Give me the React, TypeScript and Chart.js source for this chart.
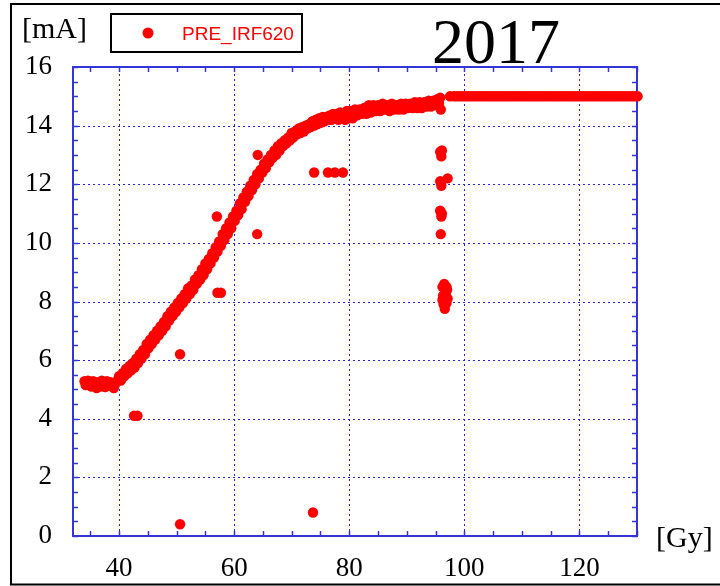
import { useEffect, useRef } from "react";
import { Chart, registerables } from "chart.js";

Chart.register(...registerables);

const seriesLabel = "PRE_IRF620";
const titleText = "2017";
const yUnit = "[mA]";
const xUnit = "[Gy]";

const xMin = 32;
const xMax = 130;
const xStep = 20;
const xMinorStep = 5;
const yMin = 0;
const yMax = 16;
const yStep = 2;
const yMinorStep = 0.5;

// main rising curve (dose in Gy, current in mA)
const curveGy = [
  34.0, 34.2, 34.3, 34.6, 34.9, 35.2, 35.5, 35.8, 36.1, 36.4,
  36.7, 37.0, 37.3, 37.6, 37.9, 38.2, 38.5, 38.8, 39.1, 39.4,
  39.7,
  40.0, 40.3, 40.6, 40.9, 41.2, 41.5, 41.8, 42.1, 42.4, 42.7,
  43.0, 43.3, 43.6, 43.9, 44.2, 44.5, 44.8, 45.1, 45.4, 45.7,
  46.0, 46.3, 46.6, 46.9, 47.2, 47.5, 47.8, 48.1, 48.4, 48.7,
  49.0, 49.3, 49.6, 49.9, 50.2, 50.5, 50.8, 51.1, 51.4, 51.7,
  52.0, 52.3, 52.6, 52.9, 53.2, 53.5, 53.8, 54.1, 54.4, 54.7,
  55.0, 55.3, 55.6, 55.9, 56.2, 56.5, 56.8, 57.1, 57.4, 57.7,
  58.0, 58.3, 58.6, 58.9, 59.2, 59.5, 59.8, 60.1, 60.4, 60.7,
  61.0, 61.3, 61.6, 61.9, 62.2, 62.5, 62.8, 63.1, 63.4, 63.7,
  64.0, 64.3, 64.6, 64.9, 65.2, 65.5, 65.8, 66.1, 66.4, 66.7,
  67.0, 67.3, 67.6, 67.9, 68.2, 68.5, 68.8, 69.1, 69.4, 69.7,
  70.0, 70.3, 70.6, 70.9, 71.2, 71.5, 71.8, 72.1, 72.4, 72.7,
  73.0, 73.3, 73.6, 73.9, 74.2, 74.5, 74.8, 75.1, 75.4, 75.7,
  76.0, 76.3, 76.6, 76.9, 77.2, 77.5, 77.8, 78.1, 78.4, 78.7,
  79.0, 79.3, 79.6, 79.9, 80.2, 80.6, 81.0, 81.4, 81.8, 82.2,
  82.6, 83.0, 83.4, 83.8, 84.2, 84.6, 85.0, 85.4, 85.8, 86.2,
  86.6, 87.0, 87.4, 87.8, 88.2, 88.6, 89.0, 89.4, 89.8, 90.2,
  90.6, 91.0, 91.4, 91.8, 92.2, 92.6, 93.0, 93.4, 93.8, 94.2,
  94.6, 95.0, 95.3, 95.6, 95.8, 95.9,
];
const curveMA = [
  5.28, 5.15, 5.25, 5.30, 5.20, 5.10, 5.28, 5.20, 5.05, 5.25,
  5.10, 5.30, 5.20, 5.08, 5.28, 5.20, 5.25, 5.10, 5.05, 5.20,
  5.30,
  5.45, 5.30, 5.55, 5.45, 5.70, 5.55, 5.80, 5.65, 5.90, 5.75,
  6.05, 5.90, 6.20, 6.05, 6.35, 6.20, 6.55, 6.40, 6.70, 6.55,
  6.85, 6.70, 7.00, 6.85, 7.15, 7.00, 7.30, 7.15, 7.50, 7.35,
  7.65, 7.50, 7.80, 7.65, 7.95, 7.80, 8.10, 7.95, 8.25, 8.10,
  8.45, 8.25, 8.55, 8.40, 8.75, 8.60, 8.90, 8.75, 9.10, 8.90,
  9.30, 9.10, 9.45, 9.30, 9.65, 9.50, 9.85, 9.70, 10.05, 9.90,
  10.30, 10.10, 10.50, 10.30, 10.70, 10.50, 10.90, 10.75, 11.10, 10.95,
  11.35, 11.15, 11.55, 11.40, 11.75, 11.60, 11.95, 11.80, 12.15, 12.00,
  12.35, 12.20, 12.50, 12.40, 12.70, 12.55, 12.85, 12.75, 13.00, 12.90,
  13.15, 13.00, 13.30, 13.15, 13.40, 13.30, 13.50, 13.40, 13.60, 13.50,
  13.75, 13.60, 13.80, 13.70, 13.90, 13.75, 13.95, 13.80, 14.00, 13.90,
  14.05, 13.95, 14.15, 14.00, 14.20, 14.05, 14.25, 14.10, 14.30, 14.15,
  14.30, 14.20, 14.35, 14.20, 14.40, 14.25, 14.40, 14.20, 14.45, 14.25,
  14.40, 14.20, 14.50, 14.25, 14.50, 14.25, 14.55, 14.35, 14.55, 14.40,
  14.60, 14.40, 14.70, 14.45, 14.70, 14.50, 14.70, 14.50, 14.75, 14.55,
  14.70, 14.50, 14.75, 14.55, 14.70, 14.55, 14.75, 14.55, 14.75, 14.60,
  14.75, 14.60, 14.80, 14.60, 14.80, 14.60, 14.80, 14.65, 14.85, 14.65,
  14.85, 14.70, 14.90, 14.75, 14.95, 14.55,
];

// saturated plateau after ~97.5 Gy
const plateauGy = [
  97.5, 98.2, 98.7, 99.2, 99.7, 100.2, 100.7, 101.2, 101.7, 102.2,
  102.7, 103.2, 103.7, 104.2, 104.7, 105.2, 105.7, 106.2, 106.7, 107.2,
  107.7, 108.2, 108.7, 109.2, 109.7, 110.2, 110.7, 111.2, 111.7, 112.2,
  112.7, 113.2, 113.7, 114.2, 114.7, 115.2, 115.7, 116.2, 116.7, 117.2,
  117.7, 118.2, 118.7, 119.2, 119.7, 120.2, 120.7, 121.2, 121.7, 122.2,
  122.7, 123.2, 123.7, 124.2, 124.7, 125.2, 125.7, 126.2, 126.7, 127.2,
  127.7, 128.2, 128.7, 129.2, 129.7, 130.1,
];
const plateauMA = [
  15, 15, 15, 15, 15, 15, 15, 15, 15, 15,
  15, 15, 15, 15, 15, 15, 15, 15, 15, 15,
  15, 15, 15, 15, 15, 15, 15, 15, 15, 15,
  15, 15, 15, 15, 15, 15, 15, 15, 15, 15,
  15, 15, 15, 15, 15, 15, 15, 15, 15, 15,
  15, 15, 15, 15, 15, 15, 15, 15, 15, 15,
  15, 15, 15, 15, 15, 15,
];

// isolated readings
const outlierGy = [
  42.6, 43.2, 50.6, 50.6, 57.0, 57.1, 57.7, 64.1, 64.0, 73.7,
  73.9, 76.3, 77.5, 78.9, 95.8, 96.1, 96.0, 95.8, 96.0, 97.1,
  95.8, 96.1, 96.0, 95.9, 95.9, 96.2, 96.5, 96.9, 96.3, 96.8,
  97.1, 96.4, 96.9, 96.6, 97.0, 96.2,
];
const outlierMA = [
  4.10, 4.10, 0.40, 6.20, 10.90, 8.30, 8.30, 13.00, 10.30, 0.80,
  12.40, 12.40, 12.40, 12.40, 13.10, 13.15, 12.95, 12.10, 11.95, 12.20,
  11.10, 11.00, 10.90, 11.05, 10.30, 8.50, 8.60, 8.50, 8.20, 8.30,
  8.10, 7.90, 7.95, 7.75, 8.40, 8.05,
];

const RED = "#ff0000";
const AXIS_BLUE = "#3434d8";
const GRID_BLUE = "#2424f0";
const SERIF = "'Liberation Serif', 'Times New Roman', serif";
const SANS = "'Liberation Sans', Arial, sans-serif";

function zip(xs: number[], ys: number[]) {
  return xs.map((x, i) => ({ x, y: ys[i] }));
}

const decorPlugin = {
  id: "decor",
  beforeDraw(chart: any) {
    const ctx = chart.ctx;
    ctx.save();
    ctx.fillStyle = "#ffffff";
    ctx.fillRect(0, 0, chart.width, chart.height);
    ctx.strokeStyle = "#000000";
    ctx.lineWidth = 2;
    ctx.beginPath();
    ctx.moveTo(chart.width + 2, 4);
    ctx.lineTo(11, 4);
    ctx.lineTo(11, 584.5);
    ctx.lineTo(chart.width + 2, 584.5);
    ctx.stroke();
    ctx.restore();
  },
  beforeDatasetsDraw(chart: any) {
    const ctx = chart.ctx;
    const a = chart.chartArea;
    const xs = chart.scales.x;
    const ys = chart.scales.y;
    ctx.save();
    // dotted grid at major ticks
    ctx.strokeStyle = GRID_BLUE;
    ctx.lineWidth = 1;
    ctx.setLineDash([2, 3]);
    xs.ticks.forEach((t: any) => {
      const px = Math.round(xs.getPixelForValue(t.value)) + 0.5;
      ctx.beginPath();
      ctx.moveTo(px, a.bottom);
      ctx.lineTo(px, a.top);
      ctx.stroke();
    });
    ys.ticks.forEach((t: any) => {
      if (t.value <= yMin || t.value >= yMax) return;
      const py = Math.round(ys.getPixelForValue(t.value)) + 0.5;
      ctx.beginPath();
      ctx.moveTo(a.left, py);
      ctx.lineTo(a.right, py);
      ctx.stroke();
    });
    ctx.setLineDash([]);
    // inward ticks on all four sides
    ctx.strokeStyle = AXIS_BLUE;
    ctx.lineWidth = 1.5;
    const tl = 5;
    for (let v = Math.ceil(xMin / xMinorStep) * xMinorStep; v <= xMax; v += xMinorStep) {
      const px = Math.round(xs.getPixelForValue(v)) + 0.5;
      ctx.beginPath();
      ctx.moveTo(px, a.bottom);
      ctx.lineTo(px, a.bottom - tl);
      ctx.moveTo(px, a.top);
      ctx.lineTo(px, a.top + tl);
      ctx.stroke();
    }
    for (let v = yMin; v <= yMax + 1e-9; v += yMinorStep) {
      const py = Math.round(ys.getPixelForValue(v)) + 0.5;
      ctx.beginPath();
      ctx.moveTo(a.left, py);
      ctx.lineTo(a.left + tl, py);
      ctx.moveTo(a.right, py);
      ctx.lineTo(a.right - tl, py);
      ctx.stroke();
    }
    // plot frame
    ctx.lineWidth = 2;
    ctx.strokeRect(a.left, a.top, a.right - a.left, a.bottom - a.top);
    ctx.restore();
  },
  afterDraw(chart: any) {
    const ctx = chart.ctx;
    ctx.save();
    // legend box
    ctx.strokeStyle = "#000000";
    ctx.lineWidth = 2;
    ctx.strokeRect(111, 14, 191, 38);
    const ds = chart.data.datasets[0];
    ctx.fillStyle = ds.backgroundColor;
    ctx.beginPath();
    ctx.arc(148, 33, 5.5, 0, Math.PI * 2);
    ctx.fill();
    ctx.font = `19px ${SANS}`;
    ctx.textAlign = "left";
    ctx.textBaseline = "alphabetic";
    ctx.fillText(ds.label, 182, 40);
    // title
    ctx.fillStyle = "#000000";
    ctx.font = `64px ${SERIF}`;
    ctx.textAlign = "center";
    ctx.fillText(titleText, 496, 63);
    // unit labels
    ctx.font = `30px ${SERIF}`;
    ctx.textAlign = "left";
    ctx.fillText(yUnit, 22, 38);
    ctx.fillText(xUnit, 656, 547);
    ctx.restore();
  },
};

export default function App() {
  const ref = useRef<HTMLCanvasElement | null>(null);

  useEffect(() => {
    if (!ref.current) return;
    const data = [
      ...zip(curveGy, curveMA),
      ...zip(plateauGy, plateauMA),
      ...zip(outlierGy, outlierMA),
    ];
    const chart = new Chart(ref.current, {
      type: "scatter",
      data: {
        datasets: [
          {
            label: seriesLabel,
            data,
            backgroundColor: RED,
            borderColor: RED,
            borderWidth: 0,
            pointRadius: 5.2,
            pointHoverRadius: 5.2,
            clip: false,
          },
        ],
      },
      plugins: [decorPlugin],
      options: {
        responsive: false,
        animation: false,
        devicePixelRatio: 1,
        layout: { padding: { left: 0, top: 67, right: 83, bottom: 0 } },
        plugins: {
          legend: { display: false },
          title: { display: false },
          tooltip: { enabled: false },
        },
        scales: {
          x: {
            type: "linear",
            min: xMin,
            max: xMax,
            grid: { display: false },
            border: { display: false },
            ticks: {
              stepSize: xStep,
              includeBounds: false,
              autoSkip: false,
              maxRotation: 0,
              padding: 9,
              color: "#000000",
              font: { family: SERIF, size: 27 },
            },
            afterFit: (s: any) => {
              s.height = 50;
            },
          },
          y: {
            type: "linear",
            min: yMin,
            max: yMax,
            grid: { display: false },
            border: { display: false },
            ticks: {
              stepSize: yStep,
              autoSkip: false,
              padding: 13,
              color: "#000000",
              font: { family: SERIF, size: 27 },
            },
            afterFit: (s: any) => {
              s.width = 73;
            },
          },
        },
      },
    } as any);
    return () => chart.destroy();
  }, []);

  return (
    <div style={{ position: "absolute", left: 0, top: 0, width: 720, height: 586, background: "#fff" }}>
      <canvas ref={ref} width={720} height={586} style={{ display: "block", width: 720, height: 586 }} />
    </div>
  );
}
